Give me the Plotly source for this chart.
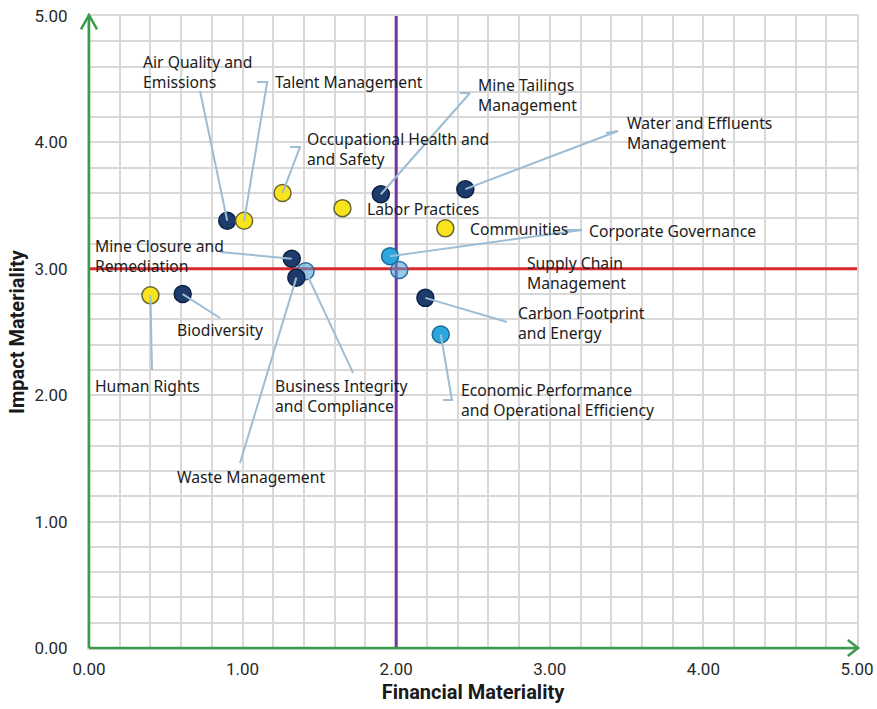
import plotly.graph_objects as go

# ---- materiality scores -------------------------------------------------
topics = [
    "Air Quality and Emissions", "Talent Management",
    "Occupational Health and Safety", "Labor Practices",
    "Mine Tailings Management", "Water and Effluents Management",
    "Communities", "Corporate Governance", "Supply Chain Management",
    "Mine Closure and Remediation", "Business Integrity and Compliance",
    "Waste Management", "Human Rights", "Biodiversity",
    "Carbon Footprint and Energy",
    "Economic Performance and Operational Efficiency",
]
financial = [0.90, 1.01, 1.26, 1.65, 1.90, 2.45, 2.32, 1.96, 2.02,
             1.32, 1.41, 1.35, 0.40, 0.61, 2.19, 2.29]
impact = [3.38, 3.38, 3.60, 3.48, 3.59, 3.63, 3.32, 3.10, 2.99,
          3.08, 2.98, 2.93, 2.79, 2.80, 2.77, 2.48]
pillar = ["env", "social", "social", "social", "env", "env", "social",
          "gov", "gov_t", "env", "gov_t", "env", "social", "env", "env", "gov"]

axis_ticks = [0, 1, 2, 3, 4, 5]
axis_tick_text = ["0.00", "1.00", "2.00", "3.00", "4.00", "5.00"]
financial_threshold = 2.0
impact_threshold = 3.0

# ---- styling --------------------------------------------------------------
fill = {"env": "#1d3c6c", "social": "#f7e41d", "gov": "#2ba7de",
        "gov_t": "rgba(70,160,215,0.55)"}
edge = {"env": "#0d2142", "social": "#6a6633", "gov": "#1c6a98",
        "gov_t": "#2b6d9f"}

# label text, label anchor (left/middle) and leader-line waypoints
callouts = {
    "Air Quality and Emissions": ("Air Quality and<br>Emissions", 0.339, 4.56, [(0.723, 4.407)]),
    "Talent Management": ("Talent Management", 1.198, 4.478, [(1.094, 4.478), (1.160, 4.478)]),
    "Occupational Health and Safety": ("Occupational Health and<br>and Safety", 1.406, 3.95, [(1.309, 3.964), (1.374, 3.964)]),
    "Labor Practices": ("Labor Practices", 1.797, 3.473, []),
    "Mine Tailings Management": ("Mine Tailings<br>Management", 2.520, 4.375, [(2.415, 4.391), (2.480, 4.391)]),
    "Water and Effluents Management": ("Water and Effluents<br>Management", 3.490, 4.074, [(3.366, 4.074), (3.444, 4.090)]),
    "Communities": ("Communities", 2.467, 3.315, []),
    "Corporate Governance": ("Corporate Governance", 3.242, 3.299, [(3.099, 3.307), (3.210, 3.307)]),
    "Supply Chain Management": ("Supply Chain<br>Management", 2.839, 2.967, []),
    "Mine Closure and Remediation": ("Mine Closure and<br>Remediation", 0.026, 3.10, [(0.853, 3.133)]),
    "Business Integrity and Compliance": ("Business Integrity<br>and Compliance", 1.198, 1.994, [(1.719, 2.176)]),
    "Waste Management": ("Waste Management", 0.560, 1.353, [(0.983, 1.464)]),
    "Human Rights": ("Human Rights", 0.026, 2.073, [(0.410, 2.199)]),
    "Biodiversity": ("Biodiversity", 0.560, 2.516, [(0.853, 2.611)]),
    "Carbon Footprint and Energy": ("Carbon Footprint<br>and Energy", 2.780, 2.571, [(2.721, 2.579)]),
    "Economic Performance and Operational Efficiency": ("Economic Performance<br>and Operational Efficiency", 2.409, 1.962, [(2.305, 1.962), (2.363, 1.962)]),
}

LABEL_FONT = dict(family="Noto Sans, Open Sans, sans-serif", size=15.7, color="#1c1c1c")
GRID = "#d8d8d8"
AXIS_GREEN = "#3a9b4c"

fig = go.Figure()

# data points
fig.add_trace(go.Scatter(
    x=financial, y=impact, mode="markers", text=topics,
    hovertemplate="%{text}<br>Financial: %{x:.2f}<br>Impact: %{y:.2f}<extra></extra>",
    marker=dict(size=17, color=[fill[p] for p in pillar],
                line=dict(color=[edge[p] for p in pillar], width=1.5)),
    showlegend=False,
))

# leader lines from each point to its label
lx, ly = [], []
for name, fx, iy in zip(topics, financial, impact):
    pts = callouts[name][3]
    if not pts:
        continue
    lx += [fx] + [p[0] for p in reversed(pts)] + [None]
    ly += [iy] + [p[1] for p in reversed(pts)] + [None]
fig.add_trace(go.Scatter(x=lx, y=ly, mode="lines", hoverinfo="skip",
                         line=dict(color="#9dbdd4", width=2), showlegend=False))

annotations = []
for name in topics:
    text, ax_, ay_, _ = callouts[name]
    annotations.append(dict(x=ax_, y=ay_, xref="x", yref="y", text=text,
                            showarrow=False, xanchor="left", yanchor="middle",
                            align="left", font=LABEL_FONT))

shapes = [
    # quadrant thresholds
    dict(type="line", xref="x", yref="y", x0=financial_threshold, x1=financial_threshold,
         y0=0, y1=5, line=dict(color="#7533a0", width=3), layer="between"),
    dict(type="line", xref="x", yref="y", x0=0, x1=5, y0=impact_threshold,
         y1=impact_threshold, line=dict(color="#d72a31", width=3), layer="between"),
    # green axes with open arrowheads
    dict(type="line", xref="x domain", yref="y domain", x0=0, x1=0, y0=0, y1=1.0,
         line=dict(color=AXIS_GREEN, width=2.5)),
    dict(type="line", xref="x domain", yref="y domain", x0=0, x1=1.0, y0=0, y1=0,
         line=dict(color=AXIS_GREEN, width=2.5)),
    dict(type="path", xref="x domain", yref="y domain",
         path="M -0.0105,0.979 L 0,1.0015 L 0.0105,0.979",
         line=dict(color=AXIS_GREEN, width=2.5)),
    dict(type="path", xref="x domain", yref="y domain",
         path="M 0.988,0.0127 L 1.0015,0 L 0.988,-0.0127",
         line=dict(color=AXIS_GREEN, width=2.5)),
]

tick_font = dict(family="Roboto, Liberation Sans, sans-serif", size=17, color="#2a2a2a")
title_font = dict(family="Roboto, Liberation Sans, sans-serif", size=20, color="#1a1a1a")

fig.update_layout(
    width=877, height=709,
    margin=dict(l=89, r=20, t=16, b=61, autoexpand=False),
    paper_bgcolor="white", plot_bgcolor="white",
    annotations=annotations, shapes=shapes,
    xaxis=dict(range=[0, 5], tickvals=axis_ticks, ticktext=axis_tick_text,
               automargin=False,
               showgrid=True, gridcolor=GRID, gridwidth=2,
               minor=dict(dtick=0.2, showgrid=True, gridcolor=GRID, gridwidth=2),
               showline=True, mirror=True, linecolor=GRID, linewidth=2,
               zeroline=False, ticks="", ticklabelstandoff=5, tickfont=tick_font,
               title=dict(text="<b>Financial Materiality</b>", font=title_font, standoff=7)),
    yaxis=dict(range=[0, 5], tickvals=axis_ticks, ticktext=axis_tick_text,
               automargin=False,
               showgrid=True, gridcolor=GRID, gridwidth=2,
               minor=dict(dtick=0.2, showgrid=True, gridcolor=GRID, gridwidth=2),
               showline=True, mirror=True, linecolor=GRID, linewidth=2,
               zeroline=False, ticks="", ticklabelstandoff=16, tickfont=tick_font,
               title=dict(text="<b>Impact Materiality</b>", font=title_font, standoff=4)),
)

fig.write_html("out.html")
